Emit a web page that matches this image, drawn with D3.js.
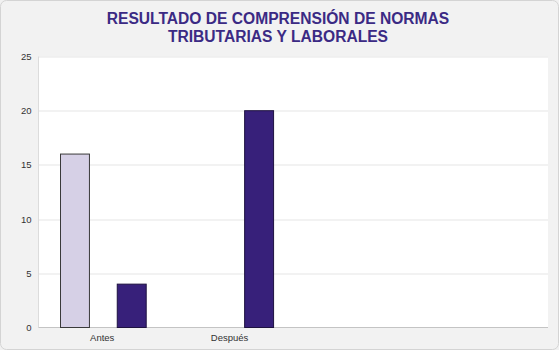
<!DOCTYPE html>
<html>
<head>
<meta charset="utf-8">
<script src="https://cdn.jsdelivr.net/npm/d3@7"></script>
<style>
  html, body { margin: 0; padding: 0; background: #f1f1f1; }
  svg { display: block; }
</style>
</head>
<body>
<script>
// Comprehension results before and after (two series per category)
const categories = ["Antes", "Después", "", ""];
const seriesNames = ["Serie 1", "Serie 2"];
const serie1 = [16, 0, null, null];
const serie2 = [4, 20, null, null];
const yTicks = [0, 5, 10, 15, 20, 25];
const titleLines = ["RESULTADO DE COMPRENSIÓN DE NORMAS", "TRIBUTARIAS Y LABORALES"];

const W = 559, H = 350;
const margin = { top: 56.5, right: 11, bottom: 22.5, left: 38.5 };
const innerW = W - margin.left - margin.right;
const innerH = H - margin.top - margin.bottom;

const svg = d3.select("body").append("svg")
  .attr("width", W).attr("height", H);

// outer panel
svg.append("rect")
  .attr("x", 0.5).attr("y", 0.5).attr("width", W - 1).attr("height", H - 1)
  .attr("rx", 6)
  .attr("fill", "#f2f2f2").attr("stroke", "#d4d4d4");

// title
svg.append("text")
  .attr("x", 278).attr("y", 23.5)
  .attr("text-anchor", "middle")
  .attr("font-family", "Liberation Sans, Arial, sans-serif")
  .attr("font-weight", "bold").attr("font-size", 15.6)
  .attr("fill", "#3b2a84")
  .selectAll("tspan").data(titleLines).join("tspan")
  .attr("x", 278).attr("dy", (d, i) => i === 0 ? 0 : 18)
  .text(d => d);

const g = svg.append("g").attr("transform", `translate(${margin.left},${margin.top})`);

const x0 = d3.scaleBand().domain(d3.range(categories.length)).range([0, innerW]).paddingInner(0).paddingOuter(0);
const x1 = d3.scaleBand().domain(seriesNames).range([22, 107.7]).paddingInner(0.49).paddingOuter(0);
const y = d3.scaleLinear().domain([0, 25]).range([innerH, 0]);

// plot area
g.append("rect").attr("width", innerW).attr("height", innerH).attr("fill", "#ffffff");

// gridlines
g.append("g").selectAll("line").data(yTicks.filter(t => t > 0)).join("line")
  .attr("x1", 0).attr("x2", innerW)
  .attr("y1", d => Math.round(y(d)) + 0.5).attr("y2", d => Math.round(y(d)) + 0.5)
  .attr("stroke", "#e6e6e6").attr("stroke-width", 1.2);

// left edge + bottom axis line
g.append("line").attr("x1", 0).attr("x2", 0).attr("y1", 0).attr("y2", innerH)
  .attr("stroke", "#dcdcdc");
g.append("line").attr("x1", 0).attr("x2", innerW).attr("y1", innerH).attr("y2", innerH)
  .attr("stroke", "#c4c4c4").attr("stroke-width", 1.2);

// bars
const colors = { "Serie 1": "#d6d0e6", "Serie 2": "#37207a" };
const strokes = { "Serie 1": "#3a3a3a", "Serie 2": "#1e1240" };
const rows = categories.map((c, i) => ({ i, values: [
  { s: "Serie 1", v: serie1[i] },
  { s: "Serie 2", v: serie2[i] }
]}));

g.selectAll("g.cat").data(rows).join("g").attr("class", "cat")
  .attr("transform", d => `translate(${x0(d.i)},0)`)
  .selectAll("rect").data(d => d.values.filter(v => v.v)).join("rect")
  .attr("x", d => x1(d.s))
  .attr("y", d => y(d.v))
  .attr("width", x1.bandwidth())
  .attr("height", d => innerH - y(d.v))
  .attr("fill", d => colors[d.s])
  .attr("stroke", d => strokes[d.s]).attr("stroke-width", 1);

// y axis labels
const yAxis = d3.axisLeft(y).tickValues(yTicks).tickSize(0).tickPadding(7);
const ya = g.append("g").call(yAxis);
ya.select(".domain").remove();
ya.selectAll("text").attr("font-family", "Liberation Sans, Arial, sans-serif")
  .attr("font-size", 9.5).attr("fill", "#333");

// x axis labels
const xAxis = d3.axisBottom(x0).tickFormat(i => categories[i]).tickSize(0).tickPadding(7);
const xa = g.append("g").attr("transform", `translate(0,${innerH})`).call(xAxis);
xa.select(".domain").remove();
xa.selectAll("text").attr("font-family", "Liberation Sans, Arial, sans-serif")
  .attr("font-size", 9.5).attr("fill", "#333");
</script>
</body>
</html>
